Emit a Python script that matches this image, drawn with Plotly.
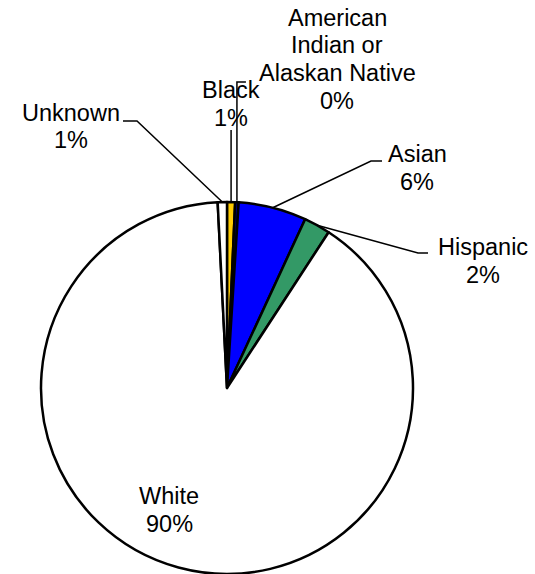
import math
import plotly.graph_objects as go

# ---- data ----
categories = ["Black", "American Indian or Alaskan Native", "Asian", "Hispanic", "White", "Unknown"]
values = [0.7, 0.3, 5.9, 2.3, 90.0, 0.8]
label_lines = [["Black"], ["American", "Indian or", "Alaskan Native"], ["Asian"], ["Hispanic"], ["White"], ["Unknown"]]
colors = ["#FFCC00", "#000080", "#0000FF", "#339966", "#FFFFFF", "#FFFFFF"]

# ---- layout constants (pixels) ----
W, H = 535, 574
dom_x = [41 / W, 413 / W]
dom_y = [0.0, 372 / H]
FONT = dict(family="Liberation Sans, Arial, sans-serif", size=23.5, color="black")
LINE_GAP = 27.5

# label centre of first line (pixel), and leader elbow/end points (pixel)
label_pos = {
    "Black": (231, 90),
    "American Indian or Alaskan Native": (337, 18),
    "Asian": (417, 154),
    "Hispanic": (483, 247),
    "White": (169, 496),
    "Unknown": (71, 113),
}
leader_pts = {
    "Black": "vertical:130",
    "American Indian or Alaskan Native": "vertical:82:9",
    "Asian": [(371, 161), (382, 161)],
    "Hispanic": [(418, 253), (428, 253)],
    "Unknown": [(137, 121), (123, 121)],
}


def px(x):
    return x / W


def py(y):
    return 1 - y / H


fig = go.Figure(go.Pie(
    labels=categories,
    values=values,
    sort=False,
    direction="clockwise",
    rotation=0,
    textinfo="none",
    hoverinfo="label+percent",
    marker=dict(colors=colors, line=dict(color="black", width=2.5)),
    domain=dict(x=dom_x, y=dom_y),
))

# pie geometry in pixels (as plotly lays it out)
cx = (dom_x[0] + dom_x[1]) / 2 * W
cy = (1 - (dom_y[0] + dom_y[1]) / 2) * H
r = min((dom_x[1] - dom_x[0]) * W, (dom_y[1] - dom_y[0]) * H) / 2

total = sum(values)
annotations = []
shapes = []
cum = 0.0
for cat, val, lines in zip(categories, values, label_lines):
    start = cum / total * 360
    cum += val
    end = cum / total * 360
    mid = math.radians((start + end) / 2)
    ax = cx + r * math.sin(mid)
    ay = cy - r * math.cos(mid)

    pct = f"{round(val / total * 100):.0f}%"
    lx, ly = label_pos[cat]
    for i, t in enumerate(lines + [pct]):
        annotations.append(dict(
            x=px(lx), y=py(ly + i * LINE_GAP), xref="paper", yref="paper",
            text=t, showarrow=False, font=FONT, xanchor="center", yanchor="middle",
        ))

    spec = leader_pts.get(cat)
    if spec is None:
        continue
    if isinstance(spec, str):
        parts = spec.split(":")
        pts = [(ax, ay), (ax, float(parts[1]))]
        if len(parts) > 2:
            pts.append((ax + float(parts[2]), float(parts[1])))
    else:
        pts = [(ax, ay)] + list(spec)
    path = "M " + " L ".join(f"{px(x):.5f},{py(y):.5f}" for x, y in pts)
    shapes.append(dict(type="path", path=path, xref="paper", yref="paper",
                       line=dict(color="black", width=1.5)))

fig.update_layout(
    width=W, height=H,
    margin=dict(l=0, r=0, t=0, b=0),
    paper_bgcolor="white",
    plot_bgcolor="white",
    showlegend=False,
    annotations=annotations,
    shapes=shapes,
)

fig.write_html(
    "out.html",
    config={"displayModeBar": False},
    post_script="document.body.style.margin='0';document.body.style.overflow='hidden';",
)
